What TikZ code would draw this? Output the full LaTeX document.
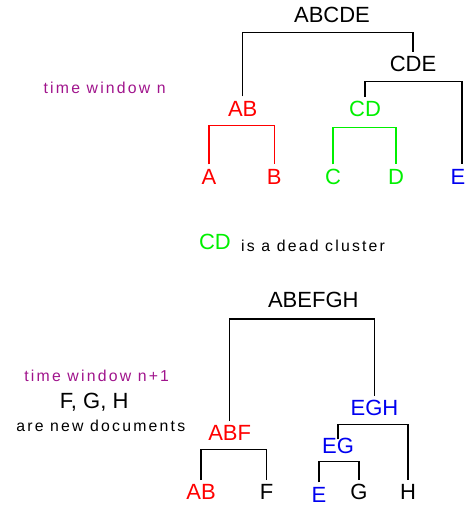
\documentclass[tikz,border=0pt]{standalone}
\usepackage{fontspec}
\setmainfont{Liberation Sans}
\newfontfamily\tracked[LetterSpace=14]{Liberation Sans}
\definecolor{clred}{RGB}{255,0,0}
\definecolor{clgreen}{RGB}{0,240,0}
\definecolor{clblue}{RGB}{0,0,240}
\definecolor{clpurple}{RGB}{160,20,140}
\begin{document}
\begin{tikzpicture}[x=1pt,y=-1pt,
  lbl/.style={font=\fontsize{22}{26}\selectfont, inner xsep=0pt, inner ysep=3.5pt,
              text height=16pt, text depth=0pt},
  note/.style={font=\tracked\fontsize{15.8}{18}\selectfont, inner sep=0pt, anchor=base},
  link/.style={line width=1.2pt, line join=miter}]
\useasboundingbox (0,0) rectangle (466,506);

% ---- dendrogram for time window n ----
\node[lbl] (abcde) at (332,15) {ABCDE};
\node[lbl] (cde) at (413,63.5) {CDE};
\node[lbl, text=clred] (ab1) at (242.7,108) {AB};
\node[lbl, text=clgreen] (cd) at (365,108.3) {CD};
\node[lbl, text=clred] (a) at (209,176) {A};
\node[lbl, text=clred] (b) at (274.3,176) {B};
\node[lbl, text=clgreen] (c) at (333,176) {C};
\node[lbl, text=clgreen] (d) at (396,176) {D};
\node[lbl, text=clblue] (e1) at (458,176) {E};

\draw[link] (ab1.north) |- ([yshift=-6pt]abcde.south) -| (cde.north);
\draw[link] (cd.north) |- ([yshift=-6pt]cde.south) -| ([xshift=4pt]e1.north);
\draw[link, clred] (a.north) |- ([yshift=-6pt]ab1.south) -| (b.north);
\draw[link, clgreen] (c.north) |- ([yshift=-7.5pt]cd.south) -| (d.north);

\node[note, text=clpurple] (twn) at (104.7,93.3) {time window n};

% ---- note on the dead cluster ----
\node[lbl, text=clgreen] (deadcd) at (215,241.7) {CD};
\node[note, anchor=base west] (deadtxt) at (241,251.7) {is a dead cluster};

% ---- dendrogram for time window n+1 ----
\node[lbl] (abefgh) at (313.3,299.3) {ABEFGH};
\node[lbl, text=clblue] (egh) at (374.5,407.7) {EGH};
\node[lbl, text=clred] (abf) at (229.7,432.7) {ABF};
\node[lbl, text=clblue] (eg) at (338,445) {EG};
\node[lbl, text=clred] (ab2) at (201,491.7) {AB};
\node[lbl] (f) at (266.7,491.7) {F};
\node[lbl, text=clblue] (e2) at (319,494) {E};
\node[lbl] (g) at (359,491.7) {G};
\node[lbl] (h) at (408,491.7) {H};

\draw[link] (abf.north) |- ([yshift=-8pt]abefgh.south) -| (egh.north);
\draw[link] ([yshift=-6pt]eg.north) |- ([yshift=-5pt]egh.south) -| (h.north);
\draw[link] (ab2.north) |- ([yshift=-5pt]abf.south) -| (f.north);
\draw[link] (e2.north) |- ([yshift=-5pt]eg.south) -| (g.north);

\node[note, text=clpurple] (twn1) at (96.7,381.7) {time window n+1};
\node[lbl] (fgh) at (94.2,400.8) {F, G, H};
\node[note] (newdocs) at (100.8,431.7) {are new documents};
\end{tikzpicture}
\end{document}
